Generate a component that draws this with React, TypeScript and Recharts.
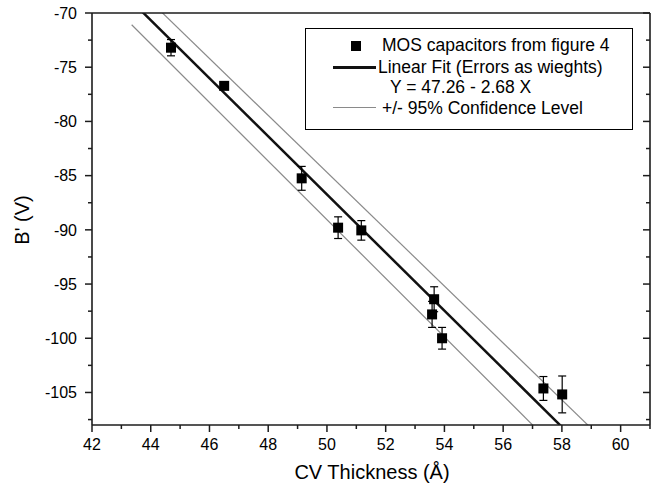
import React from "react"
import { ComposedChart, Scatter, Line, XAxis, YAxis, ErrorBar } from "recharts"

// measured capacitors (CV thickness in Å, B' in V, error in V)
const thickness = [44.69, 46.5, 49.14, 50.38, 51.17, 53.65, 53.58, 53.92, 57.37, 58.01]
const bPrime = [-73.2, -76.72, -85.25, -89.8, -90.05, -96.4, -97.8, -100.0, -104.63, -105.18]
const errors = [0.75, 0.3, 1.1, 1.0, 0.9, 1.15, 1.2, 1.0, 1.1, 1.7]

// end points of the fit and of the 95% band
const lineX = [43.35, 59]
const fitY = [-68.92, -110.86]
const upperY = [-67.24, -108.31]
const lowerY = [-71.08, -113.4]

const xTicks = [42, 43, 44, 45, 46, 47, 48, 49, 50, 51, 52, 53, 54, 55, 56, 57, 58, 59, 60, 61]
const yTicks = [-107.5, -105, -102.5, -100, -97.5, -95, -92.5, -90, -87.5, -85, -82.5, -80, -77.5, -75, -72.5, -70]

const FONT = '"Liberation Sans", Arial, Helvetica, sans-serif'
const AXIS = "#1c1c1c"
const GRAY = "#8a8a8a"

const points = thickness.map((x, i) => ({ x, y: bPrime[i], err: errors[i] }))
const fitData = lineX.map((x, i) => ({ x, y: fitY[i] }))
const upperData = lineX.map((x, i) => ({ x, y: upperY[i] }))
const lowerData = lineX.map((x, i) => ({ x, y: lowerY[i] }))

function makeTick(side: "bottom" | "left" | "top" | "right") {
  return (p: any) => {
    const { x, y } = p
    const v = p.payload.value
    const major = side === "bottom" || side === "top" ? v % 2 === 0 : v % 5 === 0
    const len = major ? 7 : 4
    const line = { stroke: AXIS, strokeWidth: 1.5 }
    if (side === "bottom") {
      return (
        <g>
          <line x1={x} y1={y} x2={x} y2={y + len} {...line} />
          {major && <text x={x} y={y + 24.5} textAnchor="middle" fontSize={16} fontFamily={FONT} fill="#000">{v}</text>}
        </g>
      )
    }
    if (side === "left") {
      return (
        <g>
          <line x1={x} y1={y} x2={x - len} y2={y} {...line} />
          {major && <text x={x - 15} y={y + 5.7} textAnchor="end" fontSize={16} fontFamily={FONT} fill="#000">{v}</text>}
        </g>
      )
    }
    if (side === "top") return <line x1={x} y1={y} x2={x} y2={y + len} {...line} />
    return <line x1={x} y1={y} x2={x - len} y2={y} {...line} />
  }
}

const square = (p: any) => <rect x={p.cx - 5} y={p.cy - 5} width={10} height={10} fill="#000" />

const txt: React.CSSProperties = { position: "absolute", fontFamily: FONT, fontSize: 17.5, lineHeight: "20px", whiteSpace: "nowrap", color: "#000" }

export default function App() {
  return (
    <div style={{ position: "absolute", left: 0, top: 0, width: 660, height: 491, background: "#fff" }}>
      <ComposedChart width={660} height={491} margin={{ top: 13, right: 10, bottom: 0, left: 0 }}>
        <XAxis
          dataKey="x"
          type="number"
          domain={[42, 61]}
          allowDataOverflow
          ticks={xTicks}
          interval={0}
          height={66}
          tickSize={0}
          tickMargin={0}
          tickLine={false}
          tick={makeTick("bottom")}
          axisLine={{ stroke: AXIS, strokeWidth: 1.6 }}
        />
        <XAxis
          xAxisId="top"
          orientation="top"
          mirror
          type="number"
          domain={[42, 61]}
          allowDataOverflow
          ticks={xTicks}
          interval={0}
          tickSize={0}
          tickMargin={0}
          tickLine={false}
          tick={makeTick("top")}
          axisLine={{ stroke: AXIS, strokeWidth: 1.6 }}
        />
        <YAxis
          dataKey="y"
          type="number"
          domain={[-108, -70]}
          allowDataOverflow
          ticks={yTicks}
          interval={0}
          width={92}
          tickSize={0}
          tickMargin={0}
          tickLine={false}
          tick={makeTick("left")}
          axisLine={{ stroke: AXIS, strokeWidth: 1.6 }}
        />
        <YAxis
          yAxisId="right"
          orientation="right"
          mirror
          type="number"
          domain={[-108, -70]}
          allowDataOverflow
          ticks={yTicks}
          interval={0}
          tickSize={0}
          tickMargin={0}
          tickLine={false}
          tick={makeTick("right")}
          axisLine={{ stroke: AXIS, strokeWidth: 1.6 }}
        />
        <Line data={upperData} dataKey="y" type="linear" stroke={GRAY} strokeWidth={1.2} dot={false} activeDot={false} isAnimationActive={false} />
        <Line data={lowerData} dataKey="y" type="linear" stroke={GRAY} strokeWidth={1.2} dot={false} activeDot={false} isAnimationActive={false} />
        <Line data={fitData} dataKey="y" type="linear" stroke="#111" strokeWidth={2.5} dot={false} activeDot={false} isAnimationActive={false} />
        <Scatter data={points} dataKey="y" shape={square} isAnimationActive={false}>
          <ErrorBar dataKey="err" direction="y" width={4} stroke="#000" strokeWidth={1.2} isAnimationActive={false} />
        </Scatter>
      </ComposedChart>

      <div style={{ ...txt, fontSize: 20, left: 372, top: 472, transform: "translate(-50%, -50%)" }}>CV Thickness (Å)</div>
      <div style={{ ...txt, fontSize: 20, left: 22, top: 220, transform: "translate(-50%, -50%) rotate(-90deg)" }}>B' (V)</div>

      <div style={{ position: "absolute", left: 305, top: 28, width: 328, height: 102, boxSizing: "border-box", border: "1px solid #000", background: "#fff" }}>
        <div style={{ position: "absolute", left: 45, top: 12, width: 10, height: 10, background: "#000" }} />
        <div style={{ ...txt, left: 76, top: 6 }}>MOS capacitors from figure 4</div>
        <div style={{ position: "absolute", left: 27, top: 37, width: 43, height: 2.5, background: "#111" }} />
        <div style={{ ...txt, left: 72, top: 28 }}>Linear Fit (Errors as wieghts)</div>
        <div style={{ ...txt, left: 84, top: 48 }}>Y = 47.26 - 2.68 X</div>
        <div style={{ position: "absolute", left: 27, top: 78, width: 43, height: 1, background: GRAY }} />
        <div style={{ ...txt, left: 76, top: 69 }}>+/- 95% Confidence Level</div>
      </div>
    </div>
  )
}
